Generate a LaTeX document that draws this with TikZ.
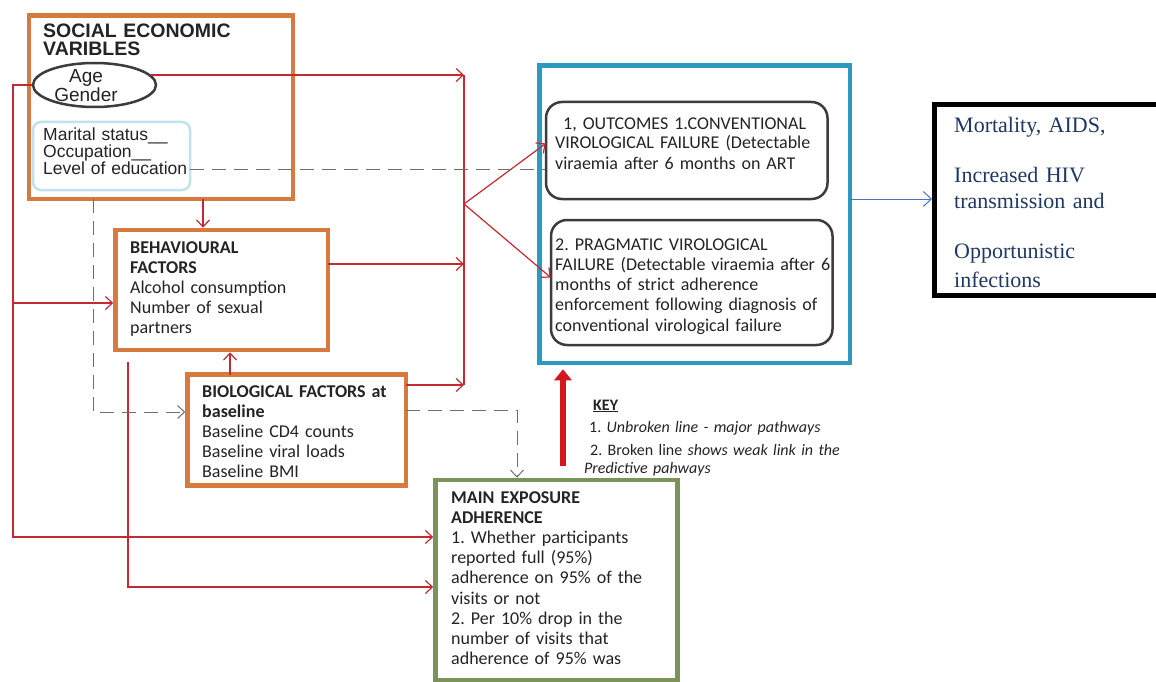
\documentclass[tikz,border=0pt]{standalone}
\usepackage{fontspec}
\setmainfont{Carlito}
\newfontfamily\arialf{Liberation Sans}
\newfontfamily\timesf{Liberation Serif}
\usetikzlibrary{arrows.meta,shapes.geometric,calc}
\definecolor{orng}{RGB}{214,122,62}
\definecolor{redl}{RGB}{196,42,50}
\definecolor{redk}{RGB}{212,22,30}
\definecolor{cyanb}{RGB}{44,154,192}
\definecolor{olivec}{RGB}{124,146,86}
\definecolor{navyc}{RGB}{31,56,100}
\definecolor{txtc}{RGB}{36,36,36}
\definecolor{dgray}{RGB}{110,110,110}
\definecolor{lbluec}{RGB}{192,226,236}
\definecolor{arrblue}{RGB}{68,114,196}
\definecolor{ringc}{RGB}{60,60,60}
\frenchspacing
\begin{document}
\begin{tikzpicture}[x=1pt,y=-1pt,
  orbox/.style={draw=orng,line width=4.5pt,inner sep=0pt,rectangle},
  rndbox/.style={draw=ringc,line width=2.5pt,inner sep=0pt,rectangle,rounded corners=16pt},
  txtnode/.style={anchor=base west,inner sep=0pt,text=txtc,align=left},
  redline/.style={draw=redl,line width=1.2pt},
  redarrow/.style={redline,-{Straight Barb[length=7pt,width=13pt,line width=1.2pt]}},
  dashline/.style={draw=dgray,line width=1pt,dash pattern=on 14pt off 8pt},
  dasharrow/.style={dashline,-{Straight Barb[length=7pt,width=13pt,line width=1pt]}}]
\useasboundingbox (0,0) rectangle (1156,682);
\clip (0,0) rectangle (1156,682);
\fill[white] (0,0) rectangle (1156,682);

% boxes
\node[orbox,minimum width=264pt,minimum height=183.5pt] (soc) at (161,107.25) {};
\node[draw=lbluec,line width=2.5pt,rectangle,rounded corners=8pt,inner sep=0pt,minimum width=157pt,minimum height=68pt] (lblue) at (111.5,156) {};
\node[draw=ringc,line width=2.5pt,ellipse,inner sep=0pt,minimum width=123pt,minimum height=44pt] (ell) at (94.5,85) {};
\node[orbox,minimum width=212.5pt,minimum height=120pt] (beh) at (221.75,290) {};
\node[orbox,minimum width=218.5pt,minimum height=111pt] (bio) at (296.75,430) {};
\node[draw=olivec,line width=4.5pt,rectangle,inner sep=0pt,minimum width=242pt,minimum height=200pt] (main) at (556.5,580) {};
\node[draw=cyanb,line width=4.5pt,rectangle,inner sep=0pt,minimum width=310.5pt,minimum height=297.5pt] (outer) at (694.75,214.25) {};
\node[rndbox,minimum width=281.5pt,minimum height=97pt] (out1) at (686.75,150.5) {};
\node[rndbox,minimum width=281.5pt,minimum height=125pt] (out2) at (691.75,282.5) {};
\node[draw=black,line width=5pt,rectangle,inner sep=0pt,minimum width=240.5pt,minimum height=191pt] (rbox) at (1054.75,200) {};

% coordinates
\coordinate (jt) at (464,75);
\coordinate (jm) at (464,204);
\coordinate (jb) at (464,385);
\coordinate (lb) at (13,537);
\coordinate (lmid) at (13,303);
\coordinate (sb) at (203,199);
\coordinate (bt) at (230,374.5);
\coordinate (be) at (328,264);
\coordinate (bioe) at (406,385);
\coordinate (v1) at (128,362);
\coordinate (v2) at (128,587);
\coordinate (d1) at (190,169);
\coordinate (d2) at (93,199);
\coordinate (d3) at (93,412);
\coordinate (d4) at (406,410);
\coordinate (d5) at (517,410);
\coordinate (ka) at (563,466);
\coordinate (bo) at (850,199);

% red connectors
\draw[redline] (jt) -- (jb);
\draw[redarrow] (ell.10) -- (ell.10 -| jt);
\draw[redarrow] (ell.west) -| (lb) -- (lb -| main.west);
\draw[redarrow] (lmid) -- (lmid -| beh.west);
\draw[redarrow] (sb) -- (sb |- beh.north);
\draw[redarrow] (bt) -- (bt |- beh.south);
\draw[redarrow] (be) -- (be -| jt);
\draw[redarrow] (bioe) -- (bioe -| jt);
\draw[redarrow] (jm) -- ($(out1.west)+(1,-7)$);
\draw[redarrow] (jm) -- ($(out2.west)+(1,-5)$);
\draw[redarrow] (v1) -- (v2) -- (v2 -| main.west);

% dashed connectors
\draw[dashline] (d1) -- (d1 -| out1.west);
\draw[dasharrow] (d2) -- (d3) -- (d3 -| bio.west);
\draw[dasharrow] (d4) -- (d5) -- (d5 |- main.north);

% thick arrow and blue arrow
\draw[draw=redk,line width=6pt,-{Triangle[length=11pt,width=17pt]},shorten >=4pt] (ka) -- (ka |- outer.south);
\draw[draw=arrblue,line width=1pt,-{Straight Barb[length=8pt,width=15pt,line width=1pt]}] (bo) -- (bo -| rbox.west);

% texts
\node[txtnode,font=\arialf\bfseries\fontsize{19.5}{18}\selectfont,text width=250pt] (soct) at (43,38) {SOCIAL ECONOMIC\\VARIBLES};
\node[anchor=base,inner sep=0pt,text=txtc,align=center,text width=90pt,font=\arialf\fontsize{19}{17}\selectfont] (ellt) at (86,83) {Age\\Gender};
\node[txtnode,font=\arialf\fontsize{17.5}{17}\selectfont,text width=150pt] (lbt) at (43,141) {Marital status\_\_\\Occupation\_\_\\Level of education};
\node[txtnode,font=\fontsize{18}{20}\selectfont,text width=200pt] (beht) at (130,253) {\textbf{BEHAVIOURAL}\\\textbf{FACTORS}\\Alcohol consumption\\Number of sexual\\partners};
\node[txtnode,font=\fontsize{18}{20}\selectfont,text width=210pt] (biot) at (202,397) {\textbf{BIOLOGICAL FACTORS at}\\\textbf{baseline}\\Baseline CD4 counts\\Baseline viral loads\\Baseline BMI};
\node[txtnode,font=\fontsize{18}{20.2}\selectfont,text width=225pt] (maint) at (451,503) {\textbf{MAIN EXPOSURE}\\\textbf{ADHERENCE}\\1. Whether participants\\reported full (95\%)\\adherence on 95\% of the\\visits or not\\2. Per 10\% drop in the\\number of visits that\\adherence of 95\% was};
\node[txtnode,font=\fontsize{18}{20}\selectfont,text width=275pt] (out1t) at (555,129) {\hspace*{8pt}1, OUTCOMES 1.CONVENTIONAL\\VIROLOGICAL FAILURE (Detectable\\viraemia after 6 months on ART};
\node[txtnode,font=\fontsize{18}{20.3}\selectfont,text width=280pt] (out2t) at (555,250) {2. PRAGMATIC VIROLOGICAL\\FAILURE (Detectable viraemia after 6\\months of strict adherence\\enforcement following diagnosis of\\conventional virological failure};
\node[txtnode,font=\fontsize{16}{18}\selectfont,text width=270pt] (keyt) at (584,410) {\hspace*{9pt}\underline{\textbf{KEY}}\\[4pt]\hspace*{5pt}1. \textit{Unbroken line - major pathways}\\[5pt]\hspace*{6pt}2. Broken line \textit{shows weak link in the}\\\textit{Predictive pahways}};
\node[txtnode,font=\timesf\fontsize{22}{26}\selectfont,text=navyc,text width=200pt] (rboxt) at (954,132) {Mortality, AIDS,\\[24pt]Increased HIV\\transmission and\\[24pt]Opportunistic\\[3pt]infections};
\end{tikzpicture}
\end{document}
